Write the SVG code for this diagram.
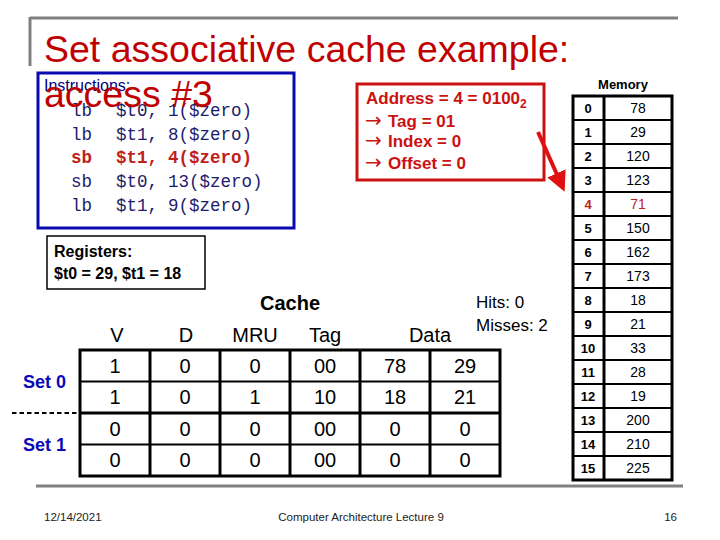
<svg xmlns="http://www.w3.org/2000/svg" width="720" height="540" viewBox="0 0 720 540">
<style>
.sans{font-family:"Liberation Sans",Arial,sans-serif}
.mono{font-family:"Liberation Mono","Courier New",monospace;font-size:17.5px;fill:#1c1c6c}
.title{font-family:"Liberation Sans",Arial,sans-serif;font-size:37.5px;fill:#C00000}
.addr{font-family:"Liberation Sans",Arial,sans-serif;font-size:17px;font-weight:bold;fill:#CC1111}
.arr{font-family:"DejaVu Sans",sans-serif;font-weight:normal;font-size:20px}
.reg{font-family:"Liberation Sans",Arial,sans-serif;font-size:16px;font-weight:bold;fill:#000}
.hdr{font-family:"Liberation Sans",Arial,sans-serif;font-size:20px;fill:#000;text-anchor:middle}
.cell{font-family:"Liberation Sans",Arial,sans-serif;font-size:20px;fill:#000;text-anchor:middle}
.midx{font-family:"Liberation Sans",Arial,sans-serif;font-size:13px;font-weight:bold;fill:#000;text-anchor:middle}
.mval{font-family:"Liberation Sans",Arial,sans-serif;font-size:14px;fill:#000;text-anchor:middle}
.hl{fill:#C0201A}
.set{font-family:"Liberation Sans",Arial,sans-serif;font-size:18px;font-weight:bold;fill:#0A0AB8}
.foot{font-family:"Liberation Sans",Arial,sans-serif;font-size:11.5px;fill:#222}
.thick{stroke:#000;stroke-width:3;fill:none}
.thin{stroke:#000;stroke-width:2;fill:none}
</style>
<defs>
<marker id="ah" markerWidth="5" markerHeight="5" refX="4" refY="2.5" orient="auto" markerUnits="strokeWidth">
<path d="M0,0 L5,2.5 L0,5 z" fill="#E01010"/>
</marker>
</defs>
<rect width="720" height="540" fill="#fff"/>

<g id="frame">
<line x1="30" y1="18" x2="678" y2="18" stroke="#808080" stroke-width="3"/>
<line x1="30" y1="17" x2="30" y2="66" stroke="#808080" stroke-width="3"/>
<line x1="36" y1="486" x2="683" y2="486" stroke="#808080" stroke-width="3"/>
</g>

<g id="title">
<text class="title" x="44" y="62">Set associative cache example:</text>
</g>

<g id="instructions">
<rect x="38" y="73" width="256" height="155" fill="none" stroke="#0A0AB0" stroke-width="3"/>
<text class="sans" x="44" y="91" font-size="16" fill="#00007A">Instructions:</text>
<text class="mono" y="116"><tspan x="71">lb</tspan><tspan x="116">$t0,</tspan><tspan x="168">1($zero)</tspan></text>
<text class="mono" y="140"><tspan x="71">lb</tspan><tspan x="116">$t1,</tspan><tspan x="168">8($zero)</tspan></text>
<text class="mono" y="163" font-weight="bold" style="fill:#C0201A"><tspan x="71">sb</tspan><tspan x="116">$t1,</tspan><tspan x="168">4($zero)</tspan></text>
<text class="mono" y="187"><tspan x="71">sb</tspan><tspan x="116">$t0,</tspan><tspan x="168">13($zero)</tspan></text>
<text class="mono" y="211"><tspan x="71">lb</tspan><tspan x="116">$t1,</tspan><tspan x="168">9($zero)</tspan></text>
</g>

<g id="access">
<text class="title" x="44" y="107">access #3</text>
</g>

<g id="address">
<rect x="357" y="84" width="187" height="96" fill="none" stroke="#CC1111" stroke-width="3"/>
<text class="addr" x="366" y="104">Address = 4 = 0100<tspan font-size="12" dy="4">2</tspan></text>
<text class="addr" y="127"><tspan class="arr" x="365">→</tspan><tspan x="388">Tag = 01</tspan></text>
<text class="addr" y="147"><tspan class="arr" x="365">→</tspan><tspan x="388">Index = 0</tspan></text>
<text class="addr" y="169"><tspan class="arr" x="365">→</tspan><tspan x="388">Offset = 0</tspan></text>
</g>

<g id="memory">
<text class="sans" x="623" y="89" font-size="13" font-weight="bold" text-anchor="middle">Memory</text>
<g class="thin">
<line x1="573" y1="120" x2="672" y2="120"/><line x1="573" y1="144" x2="672" y2="144"/>
<line x1="573" y1="168" x2="672" y2="168"/><line x1="573" y1="192" x2="672" y2="192"/>
<line x1="573" y1="216" x2="672" y2="216"/><line x1="573" y1="240" x2="672" y2="240"/>
<line x1="573" y1="264" x2="672" y2="264"/><line x1="573" y1="288" x2="672" y2="288"/>
<line x1="573" y1="312" x2="672" y2="312"/><line x1="573" y1="336" x2="672" y2="336"/>
<line x1="573" y1="360" x2="672" y2="360"/><line x1="573" y1="384" x2="672" y2="384"/>
<line x1="573" y1="408" x2="672" y2="408"/><line x1="573" y1="432" x2="672" y2="432"/>
<line x1="573" y1="456" x2="672" y2="456"/>
</g>
<line class="thick" x1="604" y1="96" x2="604" y2="480"/>
<rect class="thick" x="573" y="96" width="99" height="384"/>
<text class="midx" x="588" y="113">0</text><text class="mval" x="638" y="113">78</text>
<text class="midx" x="588" y="137">1</text><text class="mval" x="638" y="137">29</text>
<text class="midx" x="588" y="161">2</text><text class="mval" x="638" y="161">120</text>
<text class="midx" x="588" y="185">3</text><text class="mval" x="638" y="185">123</text>
<text class="midx hl" x="588" y="209">4</text><text class="mval hl" x="638" y="209">71</text>
<text class="midx" x="588" y="233">5</text><text class="mval" x="638" y="233">150</text>
<text class="midx" x="588" y="257">6</text><text class="mval" x="638" y="257">162</text>
<text class="midx" x="588" y="281">7</text><text class="mval" x="638" y="281">173</text>
<text class="midx" x="588" y="305">8</text><text class="mval" x="638" y="305">18</text>
<text class="midx" x="588" y="329">9</text><text class="mval" x="638" y="329">21</text>
<text class="midx" x="588" y="353">10</text><text class="mval" x="638" y="353">33</text>
<text class="midx" x="588" y="377">11</text><text class="mval" x="638" y="377">28</text>
<text class="midx" x="588" y="401">12</text><text class="mval" x="638" y="401">19</text>
<text class="midx" x="588" y="425">13</text><text class="mval" x="638" y="425">200</text>
<text class="midx" x="588" y="449">14</text><text class="mval" x="638" y="449">210</text>
<text class="midx" x="588" y="473">15</text><text class="mval" x="638" y="473">225</text>
</g>

<g id="registers">
<rect x="47" y="236" width="158" height="53" fill="none" stroke="#000" stroke-width="1.5"/>
<text class="reg" x="54" y="257">Registers:</text>
<text class="reg" x="54" y="279">$t0 = 29, $t1 = 18</text>
</g>

<g id="hits">
<text class="sans" x="476" y="308" font-size="17">Hits:  0</text>
<text class="sans" x="476" y="331" font-size="17">Misses: 2</text>
</g>

<g id="cache">
<text class="sans" x="290" y="310" font-size="20" font-weight="bold" text-anchor="middle">Cache</text>
<text class="hdr" x="117" y="342">V</text>
<text class="hdr" x="186" y="342">D</text>
<text class="hdr" x="255" y="342">MRU</text>
<text class="hdr" x="325" y="342">Tag</text>
<text class="hdr" x="430" y="342">Data</text>
<g class="thin">
<line x1="80" y1="381.5" x2="500" y2="381.5"/>
<line x1="80" y1="444.5" x2="500" y2="444.5"/>
</g>
<g class="thick">
<line x1="80" y1="413" x2="500" y2="413"/>
<line x1="150" y1="350" x2="150" y2="476"/>
<line x1="220" y1="350" x2="220" y2="476"/>
<line x1="290" y1="350" x2="290" y2="476"/>
<line x1="360" y1="350" x2="360" y2="476"/>
<line x1="430" y1="350" x2="430" y2="476"/>
<rect x="80" y="350" width="420" height="126"/>
</g>
<text class="cell" y="373"><tspan x="115">1</tspan><tspan x="185">0</tspan><tspan x="255">0</tspan><tspan x="325">00</tspan><tspan x="395">78</tspan><tspan x="465">29</tspan></text>
<text class="cell" y="404"><tspan x="115">1</tspan><tspan x="185">0</tspan><tspan x="255">1</tspan><tspan x="325">10</tspan><tspan x="395">18</tspan><tspan x="465">21</tspan></text>
<text class="cell" y="436"><tspan x="115">0</tspan><tspan x="185">0</tspan><tspan x="255">0</tspan><tspan x="325">00</tspan><tspan x="395">0</tspan><tspan x="465">0</tspan></text>
<text class="cell" y="467"><tspan x="115">0</tspan><tspan x="185">0</tspan><tspan x="255">0</tspan><tspan x="325">00</tspan><tspan x="395">0</tspan><tspan x="465">0</tspan></text>
</g>

<g id="sets">
<text class="set" x="23" y="388">Set 0</text>
<text class="set" x="23" y="451">Set 1</text>
<line x1="12" y1="413" x2="80" y2="413" stroke="#000" stroke-width="2" stroke-dasharray="4.5,3"/>
</g>

<g id="connectors">
<line x1="538" y1="132" x2="563" y2="188" stroke="#E01010" stroke-width="4" marker-end="url(#ah)"/>
</g>

<g id="footer">
<text class="foot" x="44" y="521">12/14/2021</text>
<text class="foot" x="361" y="521" text-anchor="middle">Computer Architecture Lecture 9</text>
<text class="foot" x="677" y="521" text-anchor="end">16</text>
</g>
</svg>
